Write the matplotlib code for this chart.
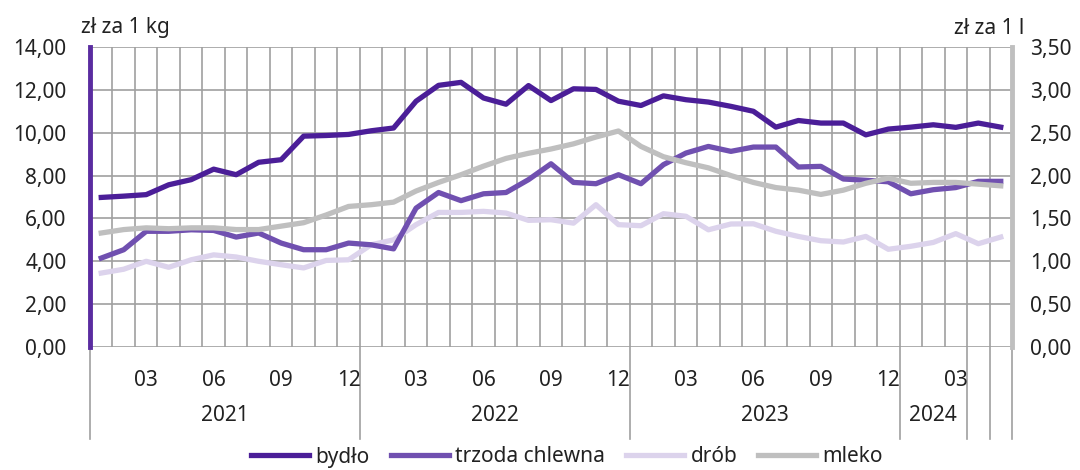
import numpy as np
import matplotlib
matplotlib.use("Agg")
import matplotlib.pyplot as plt
from matplotlib.ticker import FuncFormatter

plt.rcParams['font.family'] = ['Noto Sans', 'DejaVu Sans']

# monthly prices, Jan 2021 - May 2024
bydlo = [6.98, 7.04, 7.11, 7.57, 7.81, 8.30, 8.04, 8.62, 8.74, 9.84, 9.87, 9.92,
         10.09, 10.22, 11.47, 12.21, 12.35, 11.62, 11.33, 12.20, 11.50, 12.05, 12.02, 11.47,
         11.27, 11.72, 11.54, 11.43, 11.23, 11.00, 10.26, 10.57, 10.45, 10.45, 9.90, 10.17,
         10.26, 10.37, 10.25, 10.45, 10.26]
trzoda = [4.15, 4.54, 5.40, 5.40, 5.47, 5.44, 5.13, 5.32, 4.85, 4.54, 4.54, 4.85,
          4.77, 4.58, 6.48, 7.21, 6.83, 7.15, 7.21, 7.81, 8.55, 7.68, 7.62, 8.04,
          7.62, 8.51, 9.05, 9.36, 9.13, 9.33, 9.33, 8.40, 8.43, 7.84, 7.78, 7.71,
          7.15, 7.34, 7.44, 7.73, 7.73]
drob = [3.45, 3.63, 4.00, 3.72, 4.07, 4.30, 4.20, 4.00, 3.84, 3.69, 4.04, 4.07,
        4.77, 5.00, 5.71, 6.28, 6.28, 6.33, 6.25, 5.91, 5.94, 5.78, 6.64, 5.71,
        5.66, 6.22, 6.10, 5.47, 5.74, 5.75, 5.40, 5.16, 4.96, 4.90, 5.16, 4.56,
        4.70, 4.88, 5.29, 4.82, 5.13]
mleko = [1.33, 1.37, 1.39, 1.38, 1.39, 1.39, 1.37, 1.37, 1.41, 1.45, 1.54, 1.64,
         1.66, 1.69, 1.82, 1.92, 2.01, 2.11, 2.20, 2.26, 2.31, 2.37, 2.45, 2.52,
         2.34, 2.22, 2.15, 2.09, 2.00, 1.92, 1.86, 1.83, 1.78, 1.83, 1.91, 1.97,
         1.91, 1.92, 1.92, 1.90, 1.88]
month_labels = {2: '03', 5: '06', 8: '09', 11: '12', 14: '03', 17: '06', 20: '09', 23: '12',
                26: '03', 29: '06', 32: '09', 35: '12', 38: '03'}
years = ['2021', '2022', '2023', '2024']
year_bounds = [0, 12, 24, 36, 39, 40, 41]

c_bydlo = '#4b1e98'
c_trzoda = '#7050b0'
c_drob = '#dcd3ec'
c_mleko = '#bfbfbf'
grid_c = '#a0a0a0'
txt_c = '#222222'
fs = 15

n = len(bydlo)
x = np.arange(n) + 0.5

fig = plt.figure(figsize=(10.8, 4.7), dpi=100)
ax = fig.add_axes([90 / 1080, 1 - 347 / 470, 922 / 1080, 300 / 470])
ax2 = ax.twinx()

ax.set_xlim(0, n)
ax.set_ylim(0, 14)
ax2.set_ylim(0, 3.5)
ax.set_yticks(np.arange(0, 15, 2))
ax2.set_yticks(np.arange(0, 3.6, 0.5))
ax.set_xticks(np.arange(0, n + 1))
ax.set_xticklabels([])
ax.grid(True, color=grid_c, lw=1.2)
ax.set_axisbelow(True)

fmt = FuncFormatter(lambda v, p: f'{v:.2f}'.replace('.', ','))
ax.yaxis.set_major_formatter(fmt)
ax2.yaxis.set_major_formatter(fmt)
ax.tick_params(axis='y', length=0, pad=17, labelsize=fs, colors=txt_c)
ax2.tick_params(axis='y', length=0, pad=13, labelsize=fs, colors=txt_c)
ax.tick_params(axis='x', length=0)

for a in (ax, ax2):
    for s in a.spines.values():
        s.set_visible(False)
ax.spines['left'].set_visible(True)
ax.spines['left'].set_color('#5a2ca0')
ax.spines['left'].set_linewidth(3.5)
ax2.spines['right'].set_visible(True)
ax2.spines['right'].set_color(c_mleko)
ax2.spines['right'].set_linewidth(3.5)

lw = 3.8
l1, = ax.plot(x, bydlo, color=c_bydlo, lw=lw, label='bydło', zorder=5)
l2, = ax.plot(x, trzoda, color=c_trzoda, lw=lw, label='trzoda chlewna', zorder=4)
l3, = ax.plot(x, drob, color=c_drob, lw=lw, label='drób', zorder=3)
l4, = ax2.plot(x, mleko, color=c_mleko, lw=lw, label='mleko', zorder=3)

# category axis labels (months and years)
trans = ax.get_xaxis_transform()
for i, lab in month_labels.items():
    ax.text(i + 0.5, -0.11, lab, transform=trans, ha='center', va='center',
            fontsize=fs, color=txt_c)
for b in year_bounds:
    ax.plot([b, b], [0, -0.305], transform=trans, color=grid_c, lw=1.2, clip_on=False)
for k, yr in enumerate(years):
    xc = (year_bounds[k] + year_bounds[k + 1]) / 2
    ax.text(xc, -0.227, yr, transform=trans, ha='center', va='center',
            fontsize=fs, color=txt_c)

fig.text(81 / 1080, 1 - 28 / 470, 'zł za 1 kg', ha='left', va='center', fontsize=fs, color=txt_c)
fig.text(1024 / 1080, 1 - 28 / 470, 'zł za 1 l', ha='right', va='center', fontsize=fs, color=txt_c)

fig.legend(handles=[l1, l2, l3, l4], loc='center', bbox_to_anchor=(0.525, 1 - 457 / 470),
           ncol=4, frameon=False, fontsize=fs, handlelength=2.8, columnspacing=1.0,
           handletextpad=0.3, labelcolor=txt_c, borderpad=0.1)

fig.savefig('out.png', dpi=100)
